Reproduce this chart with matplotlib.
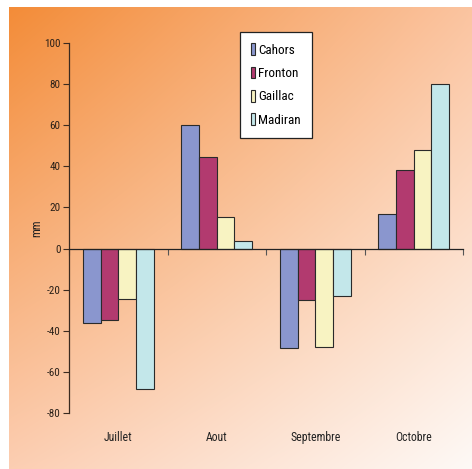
import numpy as np
import matplotlib
matplotlib.use("Agg")
import matplotlib.pyplot as plt
from matplotlib import font_manager as fm

# Rainfall anomalies (mm) per vineyard and month
months = ["Juillet", "Aout", "Septembre", "Octobre"]
series_names = ["Cahors", "Fronton", "Gaillac", "Madiran"]
cahors = [-36, 60, -48.5, 17]
fronton = [-35, 44.5, -25, 38]
gaillac = [-24.5, 15.5, -48, 48]
madiran = [-68.5, 3.5, -23, 80]
yticks = [100, 80, 60, 40, 20, 0, -20, -40, -60, -80]

colors = ["#8A96CE", "#B23A6F", "#F8F3C2", "#C3E7EA"]

names = {f.name for f in fm.fontManager.ttflist}
narrow = None
for cand in ["Liberation Sans Narrow", "DejaVu Sans Condensed", "Roboto Condensed"]:
    if cand in names:
        narrow = cand
        break
family = [narrow, "DejaVu Sans"] if narrow else ["DejaVu Sans"]
plt.rcParams["font.family"] = family
plt.rcParams["axes.unicode_minus"] = False

W, H = 472, 469
fig = plt.figure(figsize=(W / 100, H / 100), dpi=100)
fig.patch.set_facecolor("white")

# diagonal orange-to-white background panel
bg = fig.add_axes([9 / W, 0, 1 - 9 / W, 1 - 7 / H], zorder=0)
ny, nx = 200, 200
u = np.linspace(0, 1, nx)[None, :]
v = np.linspace(0, 1, ny)[:, None]
tl = np.array([243, 140, 56]) / 255
tr = np.array([251, 196, 160]) / 255
bl = np.array([252, 206, 178]) / 255
br = np.array([254, 249, 246]) / 255
img = ((1 - u) * (1 - v))[..., None] * tl + (u * (1 - v))[..., None] * tr \
    + ((1 - u) * v)[..., None] * bl + (u * v)[..., None] * br
bg.imshow(img, aspect="auto", extent=[0, 1, 1, 0], interpolation="bilinear")
bg.set_axis_off()

ax = fig.add_axes([69 / W, 1 - 413 / H, (463 - 69) / W, (413 - 43) / H], zorder=1)
ax.patch.set_alpha(0)

x = np.arange(len(months))
bw = 0.18
all_series = [cahors, fronton, gaillac, madiran]
for i, (vals, name, c) in enumerate(zip(all_series, series_names, colors)):
    ax.bar(x + (i - 1.5) * bw, vals, width=bw, color=c, edgecolor="#2a2a2a",
           linewidth=0.8, label=name, zorder=3)

ax.set_xlim(-0.5, len(months) - 0.5)
ax.set_ylim(-80, 100)
ax.set_yticks(yticks)
ax.tick_params(axis="y", direction="out", length=4, width=0.8, labelsize=8,
               color="#3a2a20", labelcolor="#2a2018", pad=2)

for s in ["top", "right"]:
    ax.spines[s].set_visible(False)
ax.spines["left"].set_color("#3a2a20")
ax.spines["left"].set_linewidth(0.9)
ax.spines["bottom"].set_position(("data", 0))
ax.spines["bottom"].set_color("#222222")
ax.spines["bottom"].set_linewidth(0.9)
ax.spines["bottom"].set_zorder(4)

ax.set_xticks(np.arange(len(months) + 1) - 0.5)
ax.set_xticklabels([])
ax.tick_params(axis="x", direction="out", length=4, width=0.8, color="#555555")

for xi, m in zip(x, months):
    ax.text(xi, -0.065, m, transform=ax.get_xaxis_transform(), ha="center",
            va="center", fontsize=8.5, color="#222222")

ax.set_ylabel("mm", fontsize=8.5, color="#222222", labelpad=1)

leg = ax.legend(loc="upper left", bbox_to_anchor=((240 - 69) / (463 - 69), 1 + (43 - 32) / 370),
                frameon=True, fancybox=False, fontsize=9.5, handlelength=0.3,
                handleheight=1.0, handletextpad=0.25, labelspacing=0.75,
                borderpad=0.85, borderaxespad=0)
leg.get_frame().set_edgecolor("#222222")
leg.get_frame().set_linewidth(0.9)
leg.get_frame().set_facecolor("white")
leg.get_frame().set_alpha(1)

fig.savefig("out.png", dpi=100)
